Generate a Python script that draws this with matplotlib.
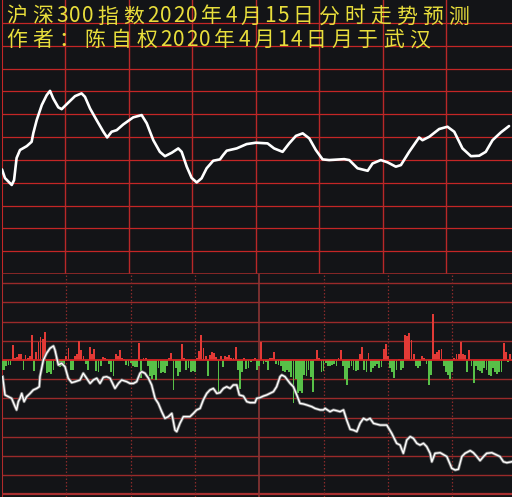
import matplotlib
matplotlib.use("Agg")
import matplotlib.pyplot as plt
import matplotlib.patheffects as pe

# ---- data ----
title_lines = ["沪深300指数2020年4月15日分时走势预测",
               "作者：陈自权2020年4月14日月于武汉"]

# predicted intraday curve (minutes from open, level in grid rows)
pred_min = [0, 1.4, 4.6, 5.7, 6.9, 8.5, 11.7, 14.0, 14.8, 16.4, 18.8, 21.1, 22.7,
            24.2, 26.6, 28.2, 30.6, 34.5, 37.6, 39.2, 41.6, 44.7, 47.9, 49.7, 51.8,
            54.2, 57.3, 62.0, 66.0, 68.4, 71.5, 74.6, 77.0, 80.2, 83.3, 84.9, 87.3,
            89.6, 92.0, 94.3, 96.7, 99.8, 103.0, 104.5, 106.2, 110.9, 115.6, 120.0,
            125.5, 128.6, 132.6, 135.7, 138.9, 142.1, 145.2, 148.3, 151.5, 154.6,
            161.7, 164.1, 168.0, 172.8, 175.1, 179.0, 182.2, 186.1, 188.5, 192.4,
            197.1, 198.7, 201.9, 206.6, 210.5, 213.7, 217.6, 221.6, 225.5, 228.6,
            231.8, 235.7, 239.6]
pred_val = [4.58, 4.20, 3.90, 4.11, 5.08, 5.43, 5.60, 5.79, 6.17, 6.74, 7.40, 7.83, 8.02,
            7.69, 7.30, 7.22, 7.44, 7.79, 7.91, 7.76, 7.25, 6.74, 6.23, 5.98, 6.23,
            6.30, 6.55, 6.86, 6.96, 6.60, 5.86, 5.35, 5.16, 5.31, 5.50, 5.35, 4.70,
            4.21, 4.01, 4.19, 4.63, 4.96, 5.02, 5.21, 5.40, 5.50, 5.69, 5.75,
            5.72, 5.50, 5.35, 5.72, 6.05, 6.16, 5.94, 5.43, 5.02, 4.99,
            5.03, 4.99, 4.63, 4.52, 4.84, 4.99, 4.89, 4.70, 4.77, 5.35,
            5.98, 5.86, 6.01, 6.35, 6.45, 6.23, 5.50, 5.16, 5.18, 5.35,
            5.86, 6.20, 6.48]

# per-minute buy/sell bars (positive red, negative green), minute 0..237
flow = [-0.5, -0.5, -0.3, -0.25, -0.26, 0.78, 0.1, 0.15, 0.3, 0.3,
        -0.52, 0.25, 0.1, 0.2, 1.3, -0.55, 0.4, 0.95, 1.2, 1.1,
        1.44, -0.7, -0.6, -0.75, -0.5, 0.45, -0.3, -0.35, -0.3, -0.2,
        0.2, 0.65, -0.5, -0.5, 0.2, 0.3, 1.0, 0.5, 0.2, -0.2,
        -0.5, 0.7, 0.3, 0.55, -0.55, -0.6, -0.3, 0.17, 0.1, 0.05,
        -0.2, -0.6, -0.85, 0.3, 0.2, 0.5, 0.1, 0.05, -0.25, -0.3,
        -0.15, -0.3, -0.35, -0.35, 0.9, -0.95, 0.1, 0.1, -0.3, -0.85,
        -1.0, -0.8, -1.05, -0.4, -0.7, -0.6, -0.7, -0.3, 0.1, 0.35,
        -1.55, -0.4, -0.85, -0.6, 0.83, 0.1, -0.5, -0.4, -0.6, -0.55,
        -0.6, 0.1, 0.45, 1.3, 0.6, 0.2, -0.85, 0.25, 0.4, 0.35,
        0.15, -1.7, 0.2, -0.35, 0.2, 0.15, 0.25, 0.1, 0.1, 0.7,
        -0.5, -1.5, -0.6, 0.1, -0.45, -0.4, -0.1, 0.05, 0.1, -0.5,
        -0.3, 0.95, -0.2, -0.1, -0.5, 0.1, 0.1, 0.4, -0.2, -0.25,
        -0.3, -0.55, -0.6, -0.5, -0.65, -0.9, -2.25, -1.0, -1.7, -1.6,
        -1.7, -0.8, -0.85, -0.5, -0.9, -1.65, 0.05, 0.5, 0.1, -0.6,
        -0.55, -0.15, -0.3, -0.3, -0.25, -0.2, -0.3, 0.1, 0.5, -0.3,
        -1.0, -1.3, -0.4, -0.3, -0.5, -0.55, -0.5, 0.3, 0.7, -0.5,
        -0.6, 0.35, -0.6, -0.4, -0.3, -0.2, -0.4, -0.35, 0.55, 0.85,
        0.2, -0.4, -0.6, -0.95, -0.5, 0.05, -0.5, -0.4, 1.3, 1.25,
        1.4, 1.05, 0.3, -0.3, -0.4, -0.3, 0.2, 0.1, -0.2, -1.3,
        -0.8, 2.4, 0.3, 0.4, 0.5, 0.55, -0.3, -0.6, -0.8, -1.0,
        -0.6, 0.1, 0.3, 0.3, 0.95, 0.3, 0.25, -0.6, 0.5, -0.3,
        -1.2, -0.3, -0.5, -0.55, -0.7, -0.4, -0.5, -0.8, -0.85, -0.4,
        -0.65, -0.75, -0.65, -0.6, 0.9, 0.4, -0.1, 0.3]

# actual index line in the lower panel
real_min = [0.3, 1.4, 3.0, 4.5, 6.1, 6.8, 7.6, 8.4, 9.2, 10.3, 11.5, 13.1, 14.6, 16.2,
            17.4, 17.7, 18.5, 19.3, 20.8, 22.4, 24.0, 24.7, 26.3, 27.8, 29.4, 30.9,
            32.5, 34.1, 36.4, 37.9, 39.5, 41.1, 42.6, 44.2, 45.7, 47.3, 48.8, 50.4,
            52.7, 54.3, 55.8, 58.2, 59.7, 61.3, 62.8, 64.4, 65.2, 66.7, 68.3, 69.8,
            71.4, 72.9, 74.5, 76.0, 77.6, 79.2, 80.7, 81.5, 83.0, 84.6, 86.2, 87.7,
            89.3, 90.8, 92.4, 93.9, 95.5, 97.0, 98.6, 100.2, 101.7, 103.3, 104.8,
            106.4, 107.9, 109.5, 110.7, 112.6, 114.2, 115.7, 118.0, 118.8, 120.4,
            121.9, 123.5, 125.0, 126.6, 128.1, 129.7, 130.5, 132.0, 134.4, 135.9,
            137.5, 139.0, 140.6, 142.1, 144.5, 146.0, 148.4, 149.9, 150.7, 153.0,
            154.6, 156.1, 157.7, 159.3, 160.8, 162.4, 163.9, 165.5, 167.0, 168.6,
            170.1, 171.7, 173.3, 176.4, 179.5, 181.8, 184.1, 185.7, 187.2, 188.8,
            190.4, 191.9, 193.5, 195.0, 196.6, 198.1, 199.7, 200.5, 202.0, 204.4,
            207.5, 209.8, 211.4, 212.9, 214.5, 216.0, 218.4, 219.9, 221.5, 223.0,
            224.6, 226.1, 228.5, 230.8, 232.3, 233.9, 235.5, 237.8]
real_val = [-0.87, -1.82, -1.91, -2.0, -2.43, -2.6, -2.17, -2.0, -1.74, -2.17, -1.91,
            -1.74, -1.56, -1.48, -1.39, -0.87, -0.43, 0.0, 0.35, 0.61, 0.73, 0.52,
            -0.26, -0.17, -0.35, -0.95, -1.18, -1.13, -1.04, -0.69, -0.95, -1.22,
            -1.04, -0.95, -1.22, -0.9, -0.87, -0.95, -1.48, -1.22, -1.04, -1.13,
            -1.22, -1.22, -1.13, -0.69, -0.61, -0.69, -0.95, -1.3, -2.0, -2.26,
            -2.69, -3.04, -2.95, -2.78, -3.65, -3.73, -3.3, -2.95, -2.95, -2.95,
            -2.78, -2.6, -2.52, -2.08, -1.74, -1.56, -1.48, -1.74, -1.7, -1.48,
            -1.39, -1.48, -1.3, -1.3, -1.82, -1.88, -2.17, -2.22, -2.22, -2.0,
            -1.96, -1.88, -1.82, -1.74, -1.65, -1.39, -0.87, -0.78, -0.87, -1.22,
            -1.39, -1.82, -2.26, -2.29, -2.34, -2.43, -2.52, -2.6, -2.6, -2.52,
            -2.69, -2.6, -2.64, -2.69, -2.6, -3.13, -3.61, -3.65, -3.73, -3.3,
            -3.04, -3.13, -3.04, -3.3, -3.39, -3.39, -3.82, -4.34, -4.43, -4.86,
            -4.17, -3.99, -4.08, -4.34, -4.43, -4.34, -4.51, -4.86, -5.3, -4.86,
            -4.83, -5.03, -5.64, -5.73, -5.69, -5.03, -4.86, -4.72, -4.83, -5.03,
            -5.24, -5.03, -4.86, -4.83, -4.95, -5.03, -5.3, -5.35, -5.3]

# ---- styling ----
bg = "#131417"
grid_red = "#c42626"
dark_red = "#9a2a2a"
W, H = 512, 497

fig = plt.figure(figsize=(W / 100, H / 100), dpi=100, facecolor=bg)

# upper panel: prediction
ax1 = fig.add_axes([2 / W, 1 - 274 / H, 510 / W, 274 / H], facecolor=bg)
ax1.set_xlim(0, 241)
ax1.set_ylim(0, 12)
for y in range(1, 12):
    ax1.axhline(y, color=grid_red, lw=0.9, zorder=1)
for x in range(30, 240, 30):
    ax1.axvline(x, color="#b82828", lw=1.0, zorder=1)
ax1.axvline(0, color=grid_red, lw=1.5, zorder=1)
ax1.axhline(0, color=dark_red, lw=1.2, zorder=1)
ax1.plot(pred_min, pred_val, color="white", lw=1.9, solid_joinstyle="round",
         solid_capstyle="round", zorder=3)
ax1.set_axis_off()

# lower panel: bars + actual line
ax2 = fig.add_axes([2 / W, 0, 510 / W, 223 / H], facecolor=bg)
ax2.set_xlim(0, 237.9)
ax2.set_ylim(-137 / 19.2, 86 / 19.2)
for y in range(-6, 5):
    if y != 0:
        ax2.axhline(y, color=dark_red, lw=1.0, zorder=1)
ax2.axhline(-7, color="#a83030", lw=1.6, zorder=1)
for x in (30, 60, 90, 150, 180, 210):
    ax2.axvline(x, color="#8a2a2a", lw=0.9, ls=(0, (1.2, 1.6)), zorder=1)
ax2.axvline(120, color="#8a3535", lw=1.2, zorder=1)
ax2.axvline(0, color="#b02a2a", lw=1.5, zorder=1)

mins = list(range(len(flow)))
colors = ["#e23a36" if v > 0 else "#58c048" for v in flow]
ax2.bar(mins, flow, width=0.85, color=colors, linewidth=0, zorder=2)
ax2.axhline(0, color="#d42424", lw=1.3, zorder=2)
ax2.plot(real_min, real_val, color="white", lw=1.0, zorder=4,
         path_effects=[pe.Stroke(linewidth=2.2, foreground="#7a7a7a"), pe.Normal()])
ax2.set_axis_off()

# title text, laid out on a half-width character grid
cell = 13.0
for row, line in enumerate(title_lines):
    yc = 1 - (16.5 + row * 23.5) / H
    pos = 3.6
    for ch in line:
        wide = 2 if ord(ch) > 127 else 1
        xc = (pos + wide * cell / 2) / W
        fig.text(xc, yc, ch, color="#e8de3c", fontsize=15, ha="center", va="center",
                 family=["Noto Sans CJK SC", "DejaVu Sans"], zorder=10)
        pos += wide * cell

fig.savefig("out.png", dpi=100, facecolor=bg)
